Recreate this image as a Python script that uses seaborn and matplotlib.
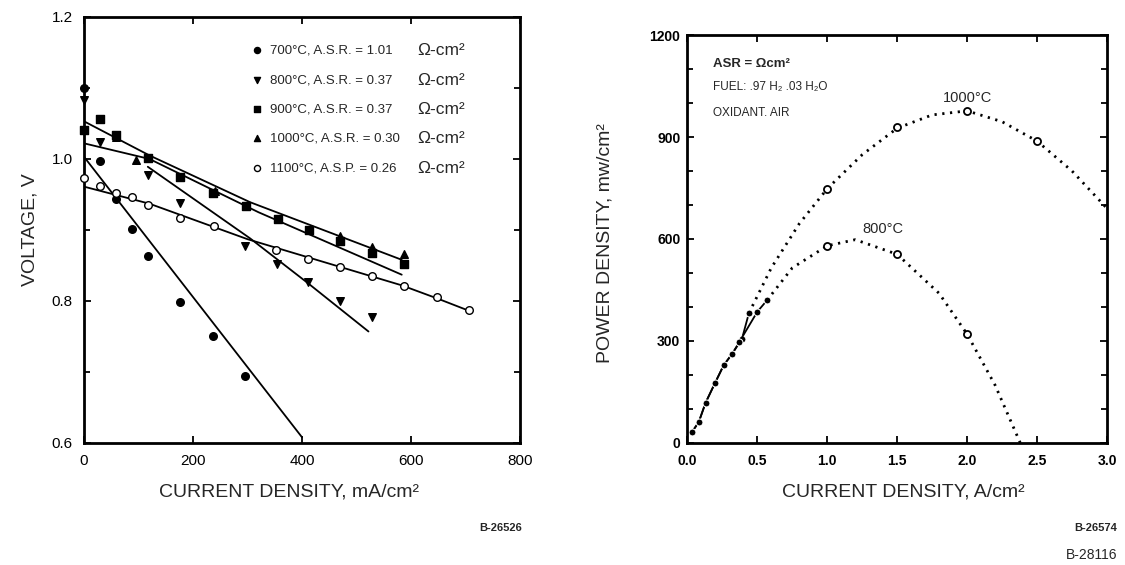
import pandas as pd
import matplotlib
matplotlib.use("Agg")
import matplotlib.pyplot as plt
from matplotlib.ticker import MultipleLocator
import seaborn as sns

# ---------------- left panel: voltage vs current density (mA/cm2) ----------------
cd_700 = [0, 30, 58, 88, 117, 176, 236, 295]
v_700 = [1.100, 0.997, 0.944, 0.901, 0.864, 0.798, 0.750, 0.695]
cd_800 = [0, 29, 117, 176, 295, 354, 411, 469, 528]
v_800 = [1.083, 1.024, 0.977, 0.938, 0.878, 0.852, 0.826, 0.800, 0.778]
cd_900 = [0, 30, 58, 117, 176, 237, 297, 356, 413, 469, 528, 588]
v_900 = [1.041, 1.056, 1.034, 1.001, 0.975, 0.952, 0.934, 0.915, 0.900, 0.885, 0.868, 0.852]
cd_1000 = [59, 96, 240, 469, 528, 588]
v_1000 = [1.031, 0.999, 0.955, 0.891, 0.876, 0.866]
cd_1100 = [0, 30, 58, 88, 117, 176, 238, 353, 411, 469, 528, 588, 648, 707]
v_1100 = [0.973, 0.962, 0.952, 0.946, 0.935, 0.917, 0.905, 0.872, 0.859, 0.848, 0.835, 0.821, 0.806, 0.787]

# fitted lines
fit_cd_700 = [0, 400]
fit_v_700 = [1.003, 0.608]
fit_cd_800 = [117, 305, 411, 522]
fit_v_800 = [0.989, 0.888, 0.825, 0.757]
fit_cd_900 = [0, 120, 320, 583]
fit_v_900 = [1.022, 1.000, 0.925, 0.837]
fit_cd_1000 = [0, 120, 305, 583]
fit_v_1000 = [1.053, 1.005, 0.939, 0.858]
fit_cd_1100 = [0, 120, 300, 583, 650, 707]
fit_v_1100 = [0.961, 0.937, 0.887, 0.822, 0.803, 0.786]

temps = ['700', '800', '900', '1000', '1100']
asr = ['1.01', '0.37', '0.37', '0.30', '0.26']
asr_word = ['A.S.R.', 'A.S.R.', 'A.S.R.', 'A.S.R.', 'A.S.P.']

# ---------------- right panel: power density vs current density (A/cm2) ----------------
low_cd_1000 = [0.034, 0.081, 0.13, 0.196, 0.26, 0.32, 0.39, 0.44]
low_p_1000 = [33, 61, 118, 175, 229, 262, 306, 382]
low_cd_800 = [0.034, 0.081, 0.13, 0.196, 0.26, 0.32, 0.37, 0.50, 0.57]
low_p_800 = [33, 61, 118, 175, 229, 262, 296, 386, 420]

curve_cd_1000 = [0.44, 0.6, 0.8, 1.0, 1.25, 1.5, 1.75, 2.0, 2.25, 2.5, 2.75, 3.0]
curve_p_1000 = [382, 515, 645, 748, 848, 926, 965, 977, 945, 888, 800, 690]
curve_cd_800 = [0.57, 0.75, 1.0, 1.2, 1.5, 1.8, 2.0, 2.2, 2.38]
curve_p_800 = [420, 515, 580, 598, 555, 440, 320, 170, 0]

pts_cd_1000 = [1.0, 1.5, 2.0, 2.5]
pts_p_1000 = [748, 928, 977, 888]
pts_cd_800 = [1.0, 1.5, 2.0]
pts_p_800 = [580, 555, 320]

sns.set_theme(style="ticks")
plt.rcParams['font.family'] = ['Liberation Sans', 'DejaVu Sans']

fig = plt.figure(figsize=(11.25, 5.65), dpi=100)
ax1 = fig.add_axes([0.0747, 0.216, 0.3875, 0.754])
ax2 = fig.add_axes([0.611, 0.216, 0.373, 0.722])

# ---- left ----
markers = {'700': ('o', 'black'), '800': ('v', 'black'), '900': ('s', 'black'),
           '1000': ('^', 'black'), '1100': ('o', 'white')}
meas = {'700': (cd_700, v_700), '800': (cd_800, v_800), '900': (cd_900, v_900),
        '1000': (cd_1000, v_1000), '1100': (cd_1100, v_1100)}
fits = {'700': (fit_cd_700, fit_v_700), '800': (fit_cd_800, fit_v_800),
        '900': (fit_cd_900, fit_v_900), '1000': (fit_cd_1000, fit_v_1000),
        '1100': (fit_cd_1100, fit_v_1100)}

for t in temps:
    fx, fy = fits[t]
    sns.lineplot(x=fx, y=fy, ax=ax1, color='black', lw=1.3, sort=False, estimator=None)

for t, a, w in zip(temps, asr, asr_word):
    mk, fc = markers[t]
    df = pd.DataFrame({'cd': meas[t][0], 'v': meas[t][1]})
    sns.scatterplot(data=df, x='cd', y='v', ax=ax1, marker=mk, s=30, color=fc,
                    edgecolor='black', linewidth=1.0, zorder=3,
                    label=f'{t}\u00b0C, {w} = {a}', clip_on=False)

ax1.set_xlim(0, 800)
ax1.set_ylim(0.6, 1.2)
ax1.xaxis.set_major_locator(MultipleLocator(200))
ax1.yaxis.set_major_locator(MultipleLocator(0.2))
ax1.yaxis.set_minor_locator(MultipleLocator(0.1))
ax1.tick_params(which='both', direction='in', top=True, right=True, length=5, width=1.3,
                labelsize=11, pad=8, colors='black')
ax1.tick_params(which='minor', length=4)
ax1.set_xlabel('CURRENT DENSITY, mA/cm\u00b2', fontsize=14)
ax1.set_ylabel('VOLTAGE, V', fontsize=14)
ax1.xaxis.set_label_coords(0.47, -0.095)
ax1.yaxis.set_label_coords(-0.105, 0.5)

leg = ax1.legend(loc='upper left', bbox_to_anchor=(0.37, 0.948), frameon=False,
                 fontsize=9.5, labelspacing=1.3, handletextpad=0.5, handlelength=1.0,
                 borderaxespad=0, markerscale=0.8)
fig.canvas.draw()
inv = ax1.transAxes.inverted()
for txt in leg.get_texts():
    bb = txt.get_window_extent()
    yc = inv.transform(((bb.x0 + bb.x1) / 2, (bb.y0 + bb.y1) / 2))[1]
    ax1.text(0.765, yc, '\u03a9-cm\u00b2', transform=ax1.transAxes, va='center',
             ha='left', fontsize=12.5)

# ---- right ----
sns.lineplot(x=curve_cd_1000, y=curve_p_1000, ax=ax2, color='black', lw=2.0,
             linestyle=(0, (0.8, 2.0)), sort=False, estimator=None)
sns.lineplot(x=curve_cd_800, y=curve_p_800, ax=ax2, color='black', lw=2.0,
             linestyle=(0, (0.8, 2.0)), sort=False, estimator=None)
sns.lineplot(x=low_cd_1000, y=low_p_1000, ax=ax2, color='black', lw=1.3,
             marker='o', markersize=5, sort=False, estimator=None)
sns.lineplot(x=low_cd_800, y=low_p_800, ax=ax2, color='black', lw=1.3,
             marker='o', markersize=5, sort=False, estimator=None)
sns.scatterplot(x=pts_cd_1000, y=pts_p_1000, ax=ax2, s=26, color='white',
                edgecolor='black', linewidth=1.3, zorder=3)
sns.scatterplot(x=pts_cd_800, y=pts_p_800, ax=ax2, s=26, color='white',
                edgecolor='black', linewidth=1.3, zorder=3)

ax2.set_xlim(0, 3.0)
ax2.set_ylim(0, 1200)
ax2.xaxis.set_major_locator(MultipleLocator(0.5))
ax2.yaxis.set_major_locator(MultipleLocator(300))
ax2.yaxis.set_minor_locator(MultipleLocator(100))
ax2.xaxis.set_major_formatter(plt.FormatStrFormatter('%.1f'))
ax2.tick_params(which='both', direction='in', top=True, right=True, length=5, width=1.3,
                labelsize=10, colors='black')
ax2.tick_params(axis='x', pad=8)
ax2.tick_params(axis='y', pad=5)
ax2.tick_params(which='minor', length=4)
for lab in ax2.get_xticklabels() + ax2.get_yticklabels():
    lab.set_fontweight('bold')
ax2.set_xlabel('CURRENT DENSITY, A/cm\u00b2', fontsize=14)
ax2.set_ylabel('POWER DENSITY, mw/cm\u00b2', fontsize=14)
ax2.xaxis.set_label_coords(0.514, -0.1)
ax2.yaxis.set_label_coords(-0.176, 0.49)

ax2.text(0.062, 0.928, 'ASR = \u03a9cm\u00b2', transform=ax2.transAxes, fontsize=9.5,
         va='center', weight='bold')
ax2.text(0.062, 0.872, 'FUEL: .97 H\u2082 .03 H\u2082O', transform=ax2.transAxes,
         fontsize=8.5, va='center')
ax2.text(0.062, 0.81, 'OXIDANT. AIR', transform=ax2.transAxes, fontsize=8.5, va='center')
ax2.text(2.0, 1014, '1000\u00b0C', ha='center', va='center', fontsize=10.5)
ax2.text(1.4, 630, '800\u00b0C', ha='center', va='center', fontsize=10.5)

for ax in (ax1, ax2):
    for sp in ax.spines.values():
        sp.set_linewidth(2.0)
        sp.set_color('black')
        sp.set_visible(True)

fig.text(522 / 1125, 1 - 528 / 565, 'B-26526', ha='right', va='center', fontsize=8,
         weight='bold')
fig.text(1117 / 1125, 1 - 528 / 565, 'B-26574', ha='right', va='center', fontsize=8,
         weight='bold')
fig.text(1117 / 1125, 1 - 555 / 565, 'B-28116', ha='right', va='center', fontsize=10)

fig.savefig('out.png', dpi=100)
